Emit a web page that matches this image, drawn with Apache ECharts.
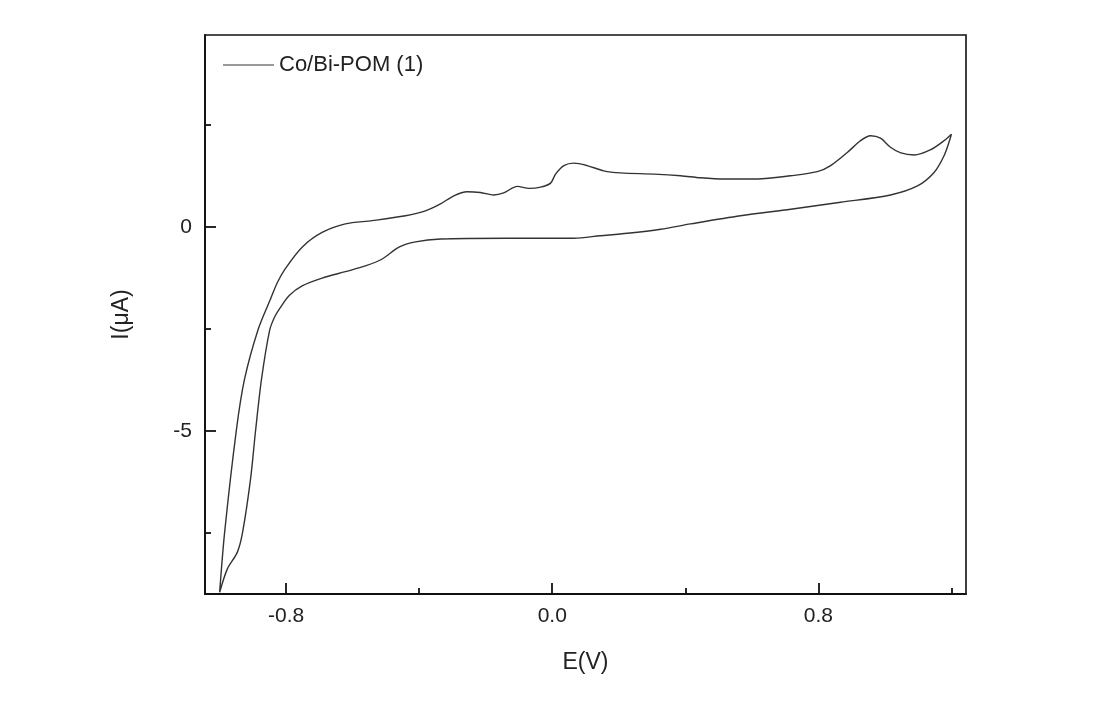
<!DOCTYPE html>
<html>
<head>
<meta charset="utf-8">
<script src="https://cdn.jsdelivr.net/npm/echarts@6/dist/echarts.min.js"></script>
<style>
html,body{margin:0;padding:0;background:#fff;}
#chart{width:1105px;height:715px;}
</style>
</head>
<body>
<div id="chart"></div>
<script>
// Anodic (forward) sweep: E (V) and I (uA)
var E_forward = [-1.0, -0.985, -0.95, -0.925, -0.884, -0.847, -0.826, -0.802, -0.752, -0.692, -0.622, -0.541, -0.441, -0.381, -0.336, -0.296, -0.256, -0.216, -0.176, -0.146, -0.105, -0.07, -0.035, -0.005, 0.01, 0.035, 0.065, 0.105, 0.155, 0.205, 0.306, 0.386, 0.446, 0.516, 0.617, 0.717, 0.797, 0.837, 0.887, 0.927, 0.957, 0.987, 1.017, 1.048, 1.088, 1.138, 1.178, 1.2];
var I_forward = [-8.96, -7.49, -5.0, -3.73, -2.51, -1.77, -1.36, -1.02, -0.50, -0.14, 0.07, 0.15, 0.27, 0.39, 0.56, 0.76, 0.86, 0.84, 0.78, 0.83, 0.99, 0.94, 0.97, 1.07, 1.29, 1.50, 1.56, 1.50, 1.37, 1.32, 1.29, 1.25, 1.20, 1.17, 1.17, 1.25, 1.35, 1.50, 1.82, 2.11, 2.23, 2.17, 1.95, 1.81, 1.76, 1.89, 2.11, 2.27];
// Cathodic (reverse) sweep
var E_reverse = [1.2, 1.196, 1.178, 1.148, 1.098, 1.017, 0.867, 0.717, 0.566, 0.416, 0.326, 0.226, 0.145, 0.065, -0.135, -0.336, -0.411, -0.461, -0.511, -0.562, -0.622, -0.692, -0.752, -0.79, -0.815, -0.834, -0.85, -0.874, -0.892, -0.907, -0.931, -0.947, -0.977, -1.0];
var I_reverse = [2.27, 2.15, 1.74, 1.33, 1.00, 0.78, 0.60, 0.43, 0.27, 0.07, -0.06, -0.16, -0.22, -0.28, -0.28, -0.30, -0.37, -0.50, -0.79, -0.96, -1.10, -1.26, -1.45, -1.68, -1.95, -2.20, -2.55, -3.73, -5.0, -6.18, -7.49, -7.98, -8.39, -8.96];

var xMajorTicks = [-0.8, 0.0, 0.8];
var xMinorTicks = [-0.4, 0.4, 1.2];
var yMajorTicks = [-5, 0];
var yMinorTicks = [-7.5, -2.5, 2.5];
var seriesName = 'Co/Bi-POM (1)';

var cvData = [];
for (var i = 0; i < E_forward.length; i++) cvData.push([E_forward[i], I_forward[i]]);
for (var j = 1; j < E_reverse.length; j++) cvData.push([E_reverse[j], I_reverse[j]]);

var FONT = 'Liberation Sans, Arial, sans-serif';
var xMin = -1.044, xMax = 1.244, yMin = -9, yMax = 4.7;

var chart = echarts.init(document.getElementById('chart'), null, {renderer: 'canvas'});
chart.setOption({
  backgroundColor: '#ffffff',
  animation: false,
  grid: {left: 205, right: 139, top: 35, bottom: 121, show: true, borderColor: '#111', borderWidth: 1.6, backgroundColor: 'transparent'},
  legend: {
    data: [{name: seriesName, icon: 'rect'}], left: 218, top: 49, itemWidth: 51, itemHeight: 1.5,
    itemStyle: {color: '#777', borderWidth: 0},
    textStyle: {fontFamily: FONT, fontSize: 22, color: '#222'}
  },
  xAxis: [{
    type: 'value', min: xMin, max: xMax, position: 'bottom',
    name: 'E(V)', nameLocation: 'middle', nameGap: 57,
    nameTextStyle: {fontFamily: FONT, fontSize: 23, color: '#222'},
    axisLine: {show: true, onZero: false, lineStyle: {color: '#111', width: 1.8}},
    axisTick: {show: true, inside: true, length: 11, lineStyle: {color: '#111', width: 1.8}, customValues: xMajorTicks},
    axisLabel: {show: true, margin: 12, fontFamily: FONT, fontSize: 21, color: '#222', customValues: xMajorTicks, formatter: function (v) { return v.toFixed(1); }},
    splitLine: {show: false}
  }, {
    type: 'value', min: xMin, max: xMax, position: 'bottom',
    axisLine: {show: false, onZero: false},
    axisTick: {show: true, inside: true, length: 6, lineStyle: {color: '#111', width: 1.8}, customValues: xMinorTicks},
    axisLabel: {show: false},
    splitLine: {show: false}
  }],
  yAxis: [{
    type: 'value', min: yMin, max: yMax, position: 'left',
    name: 'I(\u03BCA)', nameLocation: 'middle', nameGap: 72, nameRotate: 90,
    nameTextStyle: {fontFamily: FONT, fontSize: 23, color: '#222'},
    axisLine: {show: true, onZero: false, lineStyle: {color: '#111', width: 1.8}},
    axisTick: {show: true, inside: true, length: 11, lineStyle: {color: '#111', width: 1.8}, customValues: yMajorTicks},
    axisLabel: {show: true, margin: 13, fontFamily: FONT, fontSize: 21, color: '#222', customValues: yMajorTicks},
    splitLine: {show: false}
  }, {
    type: 'value', min: yMin, max: yMax, position: 'left',
    axisLine: {show: false, onZero: false},
    axisTick: {show: true, inside: true, length: 6, lineStyle: {color: '#111', width: 1.8}, customValues: yMinorTicks},
    axisLabel: {show: false},
    splitLine: {show: false}
  }],
  series: [{
    name: seriesName, type: 'line', data: cvData, xAxisIndex: 0, yAxisIndex: 0,
    symbol: 'none', smooth: 0.3,
    lineStyle: {color: '#333', width: 1.4},
    itemStyle: {color: '#333'}
  }]
});
</script>
</body>
</html>
